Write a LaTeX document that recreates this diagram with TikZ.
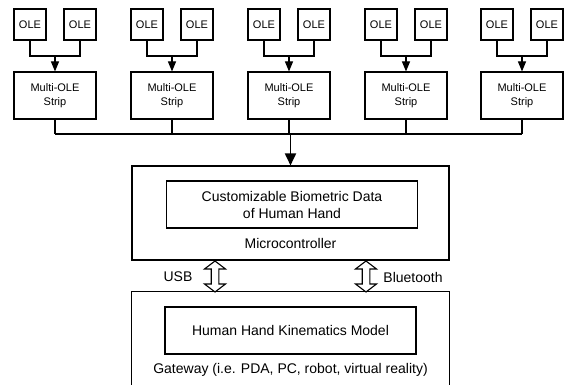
\documentclass[tikz,border=0pt]{standalone}
\usepackage{fontspec}
\setmainfont{Liberation Sans}
\usetikzlibrary{arrows.meta,calc}
\begin{document}
\begin{tikzpicture}[x=1pt,y=-1pt,
  line width=1.1pt,
  smallfont/.style={font=\fontsize{11}{13.5}\selectfont},
  bigfont/.style={font=\fontsize{14}{16}\selectfont},
  olebox/.style={draw,rectangle,inner sep=0pt,minimum width=32pt,minimum height=31pt,smallfont},
  stripbox/.style={draw,rectangle,inner sep=0pt,minimum width=82pt,minimum height=47pt,align=center,smallfont},
  bigbox/.style={draw,rectangle,inner sep=0pt,minimum width=317pt,minimum height=94pt},
  innerbox/.style={draw,rectangle,inner sep=0pt,minimum width=251pt,minimum height=47pt,align=center,bigfont},
  lbl/.style={inner sep=0pt,bigfont},
  smallarrow/.style={-{Triangle[width=8pt,length=10pt]}},
  bigarrow/.style={line width=1.8pt,-{Triangle[width=11pt,length=12pt]}},
  hollow/.style={draw,fill=white,line width=1.1pt,line join=miter}
]
\useasboundingbox (0,0) rectangle (566,385);

\foreach \i/\L in {1/14,2/131,3/248,4/365,5/481}{
  \node[olebox] (ole\i a) at (\L+16,24.5) {OLE};
  \node[olebox] (ole\i b) at (\L+66,24.5) {OLE};
  \node[stripbox] (strip\i) at (\L+41,95.5) {Multi-OLE\\[1pt]Strip};
  \coordinate (j\i) at (\L+41,56);
  \coordinate (bus\i) at (\L+41,134);
  \draw (ole\i a.south) |- (j\i) -| (ole\i b.south);
  \draw[smallarrow] (j\i) -- (strip\i.north);
  \draw (strip\i.south) -- (bus\i);
}
\draw (bus1) -- (bus5);

\node[bigbox] (micro) at (290.5,213) {};
\node[innerbox] (bio) at (292,204.5) {Customizable Biometric Data\\[1pt]of Human Hand};
\node[lbl] (mclabel) at (290.5,243) {Microcontroller};
\coordinate (busc) at (micro.north |- bus1);
\draw[bigarrow] (busc) -- (micro.north);

\node[rectangle,inner sep=0pt,minimum width=317pt,minimum height=94pt] (gw) at (290.5,339) {};
\draw (gw.south west) -- (gw.north west) -- (gw.north east) -- (gw.south east);
\node[innerbox] (model) at (290.5,330.5) {Human Hand Kinematics Model};
\node[lbl] (gwlabel) at (290.5,370) {Gateway (i.e. PDA, PC, robot, virtual reality)};

\foreach \n/\x in {usb/215,bt/366}{
  \coordinate (\n t) at (\x,261);
  \coordinate (\n b) at (\x,292);
  \path[hollow] (\n t) -- ++(10.5,8) -- ++(-6.7,0) -- ++(0,15) -- ++(6.7,0)
     -- (\n b) -- ++(-10.5,-8) -- ++(6.7,0) -- ++(0,-15) -- ++(-6.7,0) -- cycle;
}
\node[lbl] (usblabel) at (178,277) {USB};
\node[lbl] (btlabel) at (413,277) {Bluetooth};
\end{tikzpicture}
\end{document}
